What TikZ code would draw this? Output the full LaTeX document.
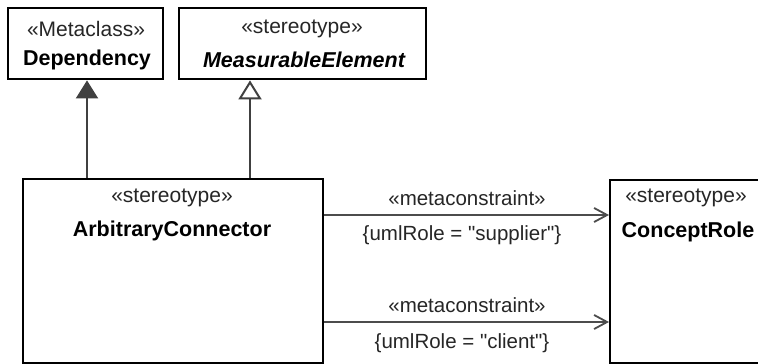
\documentclass[tikz,border=0pt]{standalone}
\usepackage{fontspec}
\setmainfont{Liberation Sans}[Ligatures=TeXOff]
\usetikzlibrary{arrows.meta}
\begin{document}
\begin{tikzpicture}[x=1pt,y=-1pt,
  box/.style={draw=black,line width=2.4pt,anchor=north west,inner sep=0pt},
  stereo/.style={font=\fontsize{21}{25}\selectfont,inner sep=0pt,text=black!85},
  cname/.style={font=\fontsize{21.5}{25}\selectfont\bfseries,inner sep=0pt},
  lbl/.style={font=\fontsize{20.5}{24}\selectfont,inner sep=0pt,text=black!85},
  gen/.style={draw=black!75,line width=2pt},
  conn/.style={draw=black!70,line width=1.8pt,-{Straight Barb[length=13pt,width=14pt]}}]
\useasboundingbox (0,0) rectangle (758,364);
\clip (0,0) rectangle (758,364);
\fill[white] (0,0) rectangle (758,364);
% boxes
\node[box,minimum width=155pt,minimum height=71pt] (dep) at (7,7) {};
\node[box,minimum width=247pt,minimum height=71pt] (meas) at (178,7) {};
\node[box,minimum width=300pt,minimum height=184pt] (arb) at (22,178) {};
\node[box,minimum width=200pt,minimum height=183pt] (cr) at (609,179) {};
% texts
\node[stereo] (depS) at (86,29) {«Metaclass»};
\node[cname] (depN) at (87,60) {Dependency};
\node[stereo] (measS) at (302,29) {«stereotype»};
\node[cname] (measN) at (304,60) {\itshape MeasurableElement};
\node[stereo] (arbS) at (172,198) {«stereotype»};
\node[cname] (arbN) at (172,231) {ArbitraryConnector};
\node[stereo] (crS) at (686,198) {«stereotype»};
\node[cname] (crN) at (688,232) {ConceptRole};
% generalisation connectors
\coordinate (g1) at (87,0);
\coordinate (g2) at (250,0);
\draw[gen,-{Triangle[width=22pt,length=18pt]}] (arb.north -| g1) -- (dep.south -| g1);
\draw[gen,-{Triangle[open,fill=white,width=23pt,length=19pt]}] (arb.north -| g2) -- (meas.south -| g2);
% metaconstraints
\coordinate (h1) at (0,215);
\coordinate (h2) at (0,322);
\draw[conn] (arb.east |- h1) -- (cr.west |- h1);
\draw[conn] (arb.east |- h2) -- (cr.west |- h2);
\node[lbl] (m1) at (467,198) {«metaconstraint»};
\node[lbl] (r1) at (462,235) {\{umlRole = "supplier"\}};
\node[lbl] (m2) at (467,305) {«metaconstraint»};
\node[lbl] (r2) at (462,343) {\{umlRole = "client"\}};
\end{tikzpicture}
\end{document}
